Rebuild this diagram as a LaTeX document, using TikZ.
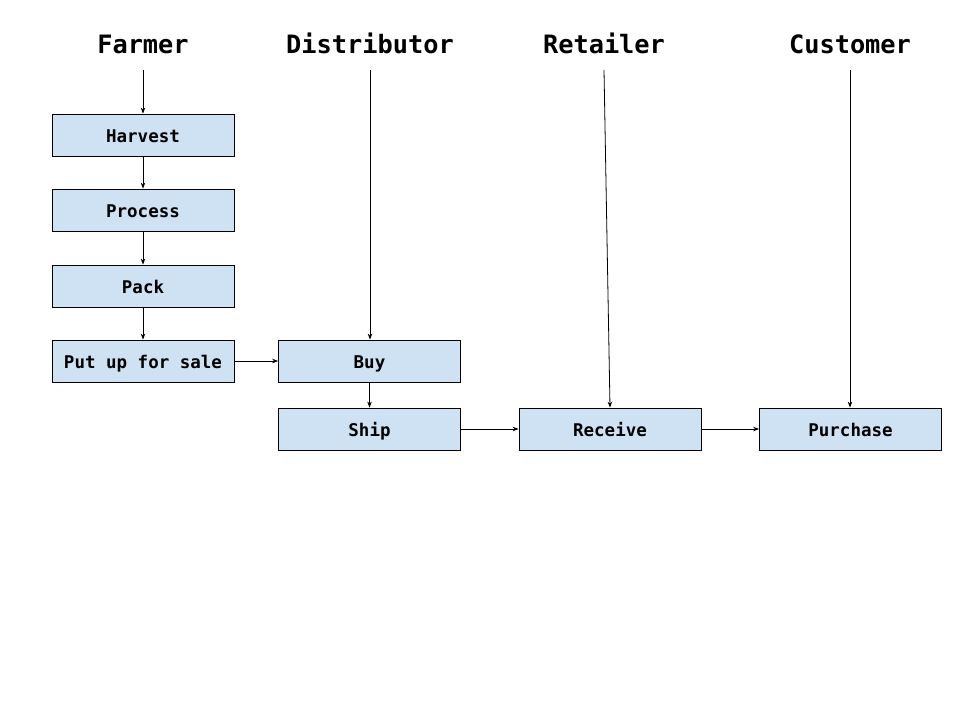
\documentclass[tikz,border=0pt]{standalone}
\usepackage{fontspec}
\setmonofont{DejaVu Sans Mono}
\usetikzlibrary{arrows.meta}
\definecolor{boxfill}{HTML}{CFE2F3}
\begin{document}
\begin{tikzpicture}[x=1pt,y=-1pt,
  lane/.style={font=\ttfamily\bfseries\fontsize{25.3}{30}\selectfont, inner sep=0pt, anchor=base},
  stepbox/.style={draw=black, line width=0.8pt, fill=boxfill, minimum width=182pt, minimum height=42pt,
    inner sep=0pt, text height=15pt, text depth=0pt,
    font=\ttfamily\bfseries\fontsize{17.5}{20}\selectfont},
  flow/.style={draw=black, line width=0.8pt, -{Stealth[length=6pt,width=4.5pt]}}]
  \useasboundingbox (0,0) rectangle (960,720);

  % lane headings
  \node[lane] (farmer) at (143,53) {Farmer};
  \node[lane] (dist) at (370,53) {Distributor};
  \node[lane] (ret) at (604,53) {Retailer};
  \node[lane] (cust) at (850,53) {Customer};

  % start points of the lane lines
  \coordinate (farmerL) at (143,70);
  \coordinate (distL) at (370,70);
  \coordinate (retL) at (604,70);
  \coordinate (custL) at (850,70);

  % steps
  \node[stepbox] (harvest) at (143,135) {Harvest};
  \node[stepbox] (process) at (143,210) {Process};
  \node[stepbox] (pack) at (143,286) {Pack};
  \node[stepbox] (sale) at (143,361) {Put up for sale};
  \node[stepbox] (buy) at (369.5,361) {Buy};
  \node[stepbox] (ship) at (369.5,429) {Ship};
  \node[stepbox] (receive) at (610,429) {Receive};
  \node[stepbox] (purchase) at (850.5,429) {Purchase};

  % connectors
  \draw[flow] (farmerL) -- (harvest.north);
  \draw[flow] (harvest) -- (process);
  \draw[flow] (process) -- (pack);
  \draw[flow] (pack) -- (sale);
  \draw[flow] (sale) -- (buy);
  \draw[flow] (distL) -- (distL |- buy.north);
  \draw[flow] (buy) -- (ship);
  \draw[flow] (ship) -- (receive);
  \draw[flow] (retL) -- (receive.north);
  \draw[flow] (receive) -- (purchase);
  \draw[flow] (custL) -- (custL |- purchase.north);
\end{tikzpicture}
\end{document}
